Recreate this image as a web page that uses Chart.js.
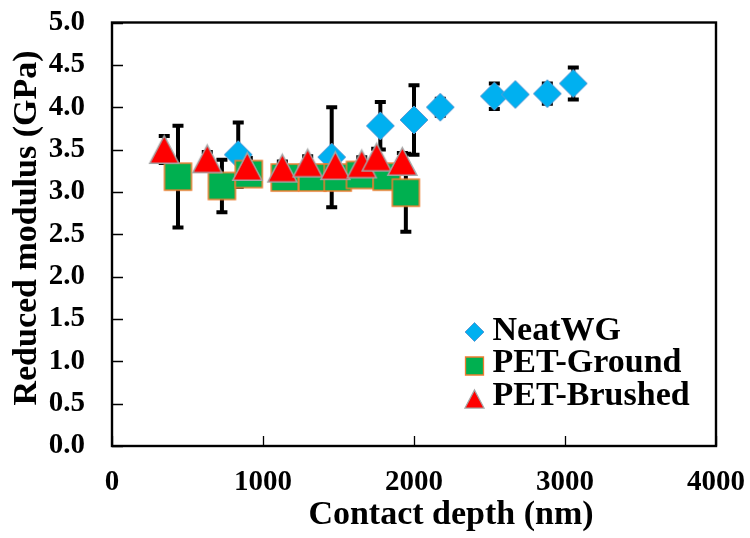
<!DOCTYPE html>
<html>
<head>
<meta charset="utf-8">
<script src="https://cdn.jsdelivr.net/npm/chart.js@4.4.1/dist/chart.umd.min.js"></script>
<style>
  html, body { margin: 0; padding: 0; background: #ffffff; }
  #wrap { width: 750px; height: 538px; }
</style>
</head>
<body>
<div id="wrap"><canvas id="c" width="750" height="538"></canvas></div>
<script>
// ---------- data ----------
const seriesNames = ['NeatWG', 'PET-Ground', 'PET-Brushed'];

const neatX   = [836, 1455, 1777, 2000, 2174, 2532, 2671, 2883, 3055];
const neatY   = [3.44, 3.41, 3.78, 3.85, 4.00, 4.13, 4.15, 4.16, 4.28];
const neatErr = [0.38, 0.59, 0.28, 0.41, 0.10, 0.15, 0.05, 0.12, 0.19];

const groundX   = [437, 728, 906, 1144, 1327, 1495, 1642, 1819, 1946];
const groundY   = [3.18, 3.07, 3.21, 3.17, 3.17, 3.17, 3.20, 3.18, 2.99];
const groundErr = [0.60, 0.31, 0.10, 0.08, 0.08, 0.10, 0.08, 0.10, 0.46];

const brushX   = [346, 631, 896, 1128, 1296, 1479, 1654, 1753, 1923];
const brushY   = [3.50, 3.39, 3.30, 3.28, 3.34, 3.31, 3.33, 3.41, 3.36];
const brushErr = [0.16, 0.08, 0.10, 0.08, 0.08, 0.10, 0.08, 0.10, 0.10];

const xTickValues = [0, 1000, 2000, 3000, 4000];
const xTickLabels = ['0', '1000', '2000', '3000', '4000'];
const yTickValues = [0, 0.5, 1, 1.5, 2, 2.5, 3, 3.5, 4, 4.5, 5];
const yTickLabels = ['0.0', '0.5', '1.0', '1.5', '2.0', '2.5', '3.0', '3.5', '4.0', '4.5', '5.0'];

const xTitle = 'Contact depth (nm)';
const yTitle = 'Reduced modulus (GPa)';

// ---------- styling ----------
const FONT = "'Liberation Serif', 'Times New Roman', serif";
const colors = {
  neat:   { fill: '#00B0F0', stroke: '#5B9BD5' },
  ground: { fill: '#00B050', stroke: '#ED7D31' },
  brush:  { fill: '#FF0000', stroke: '#A5A5A5' }
};

function drawShape(ctx, type, cx, cy, s, fill, stroke, lw) {
  ctx.beginPath();
  if (type === 'diamond') {
    ctx.moveTo(cx, cy - s / 2);
    ctx.lineTo(cx + s / 2, cy);
    ctx.lineTo(cx, cy + s / 2);
    ctx.lineTo(cx - s / 2, cy);
  } else if (type === 'square') {
    ctx.rect(cx - s / 2, cy - s / 2, s, s);
  } else {
    const h = s * 0.95;
    ctx.moveTo(cx, cy - h / 2);
    ctx.lineTo(cx + s / 2, cy + h / 2);
    ctx.lineTo(cx - s / 2, cy + h / 2);
  }
  ctx.closePath();
  ctx.fillStyle = fill;
  ctx.fill();
  ctx.lineWidth = lw;
  ctx.strokeStyle = stroke;
  ctx.lineJoin = 'miter';
  ctx.stroke();
}

function makeMarker(type, s, fill, stroke, lw) {
  const dim = Math.ceil(s + 4);
  const cv = document.createElement('canvas');
  cv.width = dim; cv.height = dim;
  const ctx = cv.getContext('2d');
  drawShape(ctx, type, dim / 2, dim / 2, s, fill, stroke, lw);
  return cv;
}

const neatMarker   = makeMarker('diamond', 28, colors.neat.fill, colors.neat.stroke, 1);
const groundMarker = makeMarker('square', 27, colors.ground.fill, colors.ground.stroke, 1.5);
const brushMarker  = makeMarker('triangle', 29, colors.brush.fill, colors.brush.stroke, 1.5);

function pts(xs, ys) { return xs.map((x, i) => ({ x: x, y: ys[i] })); }

const errSets = [neatErr, groundErr, brushErr];

// ---------- plugins ----------
const errorBarPlugin = {
  id: 'errorBars',
  beforeDatasetsDraw(chart) {
    const ctx = chart.ctx;
    const xs = chart.scales.x, ys = chart.scales.y;
    ctx.save();
    ctx.strokeStyle = '#000000';
    ctx.lineWidth = 4;
    ctx.lineCap = 'butt';
    chart.data.datasets.forEach((ds, di) => {
      const errs = errSets[di];
      ds.data.forEach((p, i) => {
        const e = errs[i];
        const px = xs.getPixelForValue(p.x);
        const top = ys.getPixelForValue(p.y + e);
        const bot = ys.getPixelForValue(p.y - e);
        ctx.beginPath();
        ctx.moveTo(px, top); ctx.lineTo(px, bot);
        ctx.moveTo(px - 5.5, top); ctx.lineTo(px + 5.5, top);
        ctx.moveTo(px - 5.5, bot); ctx.lineTo(px + 5.5, bot);
        ctx.stroke();
      });
    });
    ctx.restore();
  }
};

const framePlugin = {
  id: 'frame',
  beforeDatasetsDraw(chart) {
    const ctx = chart.ctx;
    const a = chart.chartArea;
    const xs = chart.scales.x, ys = chart.scales.y;
    ctx.save();
    ctx.strokeStyle = '#000000';
    // inward tick marks
    ctx.lineWidth = 1.3;
    ctx.beginPath();
    yTickValues.forEach(v => {
      const py = Math.round(ys.getPixelForValue(v)) + 0.5;
      ctx.moveTo(a.left, py); ctx.lineTo(a.left + 11, py);
    });
    xTickValues.forEach(v => {
      const px = Math.round(xs.getPixelForValue(v)) + 0.5;
      ctx.moveTo(px, a.bottom); ctx.lineTo(px, a.bottom - 10);
    });
    ctx.stroke();
    // frame
    ctx.lineWidth = 2.4;
    ctx.strokeRect(a.left, a.top, a.right - a.left, a.bottom - a.top);
    ctx.restore();
  },
  afterDraw(chart) {
    const ctx = chart.ctx;
    ctx.save();
    ctx.fillStyle = '#000000';
    ctx.font = 'bold 34px ' + FONT;
    // x title
    ctx.textAlign = 'center';
    ctx.textBaseline = 'alphabetic';
    ctx.fillText(xTitle, 451, 524);
    // y title
    ctx.save();
    ctx.translate(35.5, 228);
    ctx.rotate(-Math.PI / 2);
    ctx.fillText(yTitle, 0, 0);
    ctx.restore();
    // legend
    const markers = [
      ['diamond', 19, colors.neat],
      ['square', 18, colors.ground],
      ['triangle', 19, colors.brush]
    ];
    const mY = [332, 366, 399];
    const tY = [339.5, 372, 404.7];
    ctx.textAlign = 'left';
    seriesNames.forEach((name, i) => {
      const m = markers[i];
      drawShape(ctx, m[0], 474.5, mY[i], m[1], m[2].fill, m[2].stroke, i === 0 ? 1 : 1.3);
      ctx.fillStyle = '#000000';
      ctx.fillText(name, 492.5, tY[i]);
    });
    ctx.restore();
  }
};

// ---------- chart ----------
const tickFont = { family: FONT, size: 29, weight: 'bold' };

new Chart(document.getElementById('c'), {
  type: 'scatter',
  data: {
    datasets: [
      { label: seriesNames[0], data: pts(neatX, neatY), pointStyle: neatMarker, order: 2,
        backgroundColor: colors.neat.fill, borderColor: colors.neat.stroke },
      { label: seriesNames[1], data: pts(groundX, groundY), pointStyle: groundMarker, order: 1,
        backgroundColor: colors.ground.fill, borderColor: colors.ground.stroke },
      { label: seriesNames[2], data: pts(brushX, brushY), pointStyle: brushMarker, order: 0,
        backgroundColor: colors.brush.fill, borderColor: colors.brush.stroke }
    ]
  },
  options: {
    responsive: false,
    animation: false,
    devicePixelRatio: 1,
    layout: { padding: { top: 22.5, right: 34, left: 0, bottom: 0 } },
    plugins: {
      legend: { display: false },
      tooltip: { enabled: false }
    },
    events: [],
    scales: {
      x: {
        type: 'linear',
        min: 0, max: 4000,
        afterBuildTicks: s => { s.ticks = xTickValues.map(v => ({ value: v })); },
        afterFit: s => { s.height = 92; s.paddingLeft = 0; s.paddingRight = 0; },
        grid: { display: false },
        border: { display: false },
        ticks: {
          font: tickFont, color: '#000000', padding: 11, maxRotation: 0, autoSkip: false,
          callback: (v, i) => xTickLabels[i]
        }
      },
      y: {
        type: 'linear',
        min: 0, max: 5,
        afterBuildTicks: s => { s.ticks = yTickValues.map(v => ({ value: v })); },
        afterFit: s => { s.width = 112; s.paddingTop = 0; s.paddingBottom = 0; },
        grid: { display: false },
        border: { display: false },
        ticks: {
          font: tickFont, color: '#000000', padding: 19, autoSkip: false,
          callback: (v, i) => yTickLabels[i]
        }
      }
    }
  },
  plugins: [errorBarPlugin, framePlugin]
});
</script>
</body>
</html>
